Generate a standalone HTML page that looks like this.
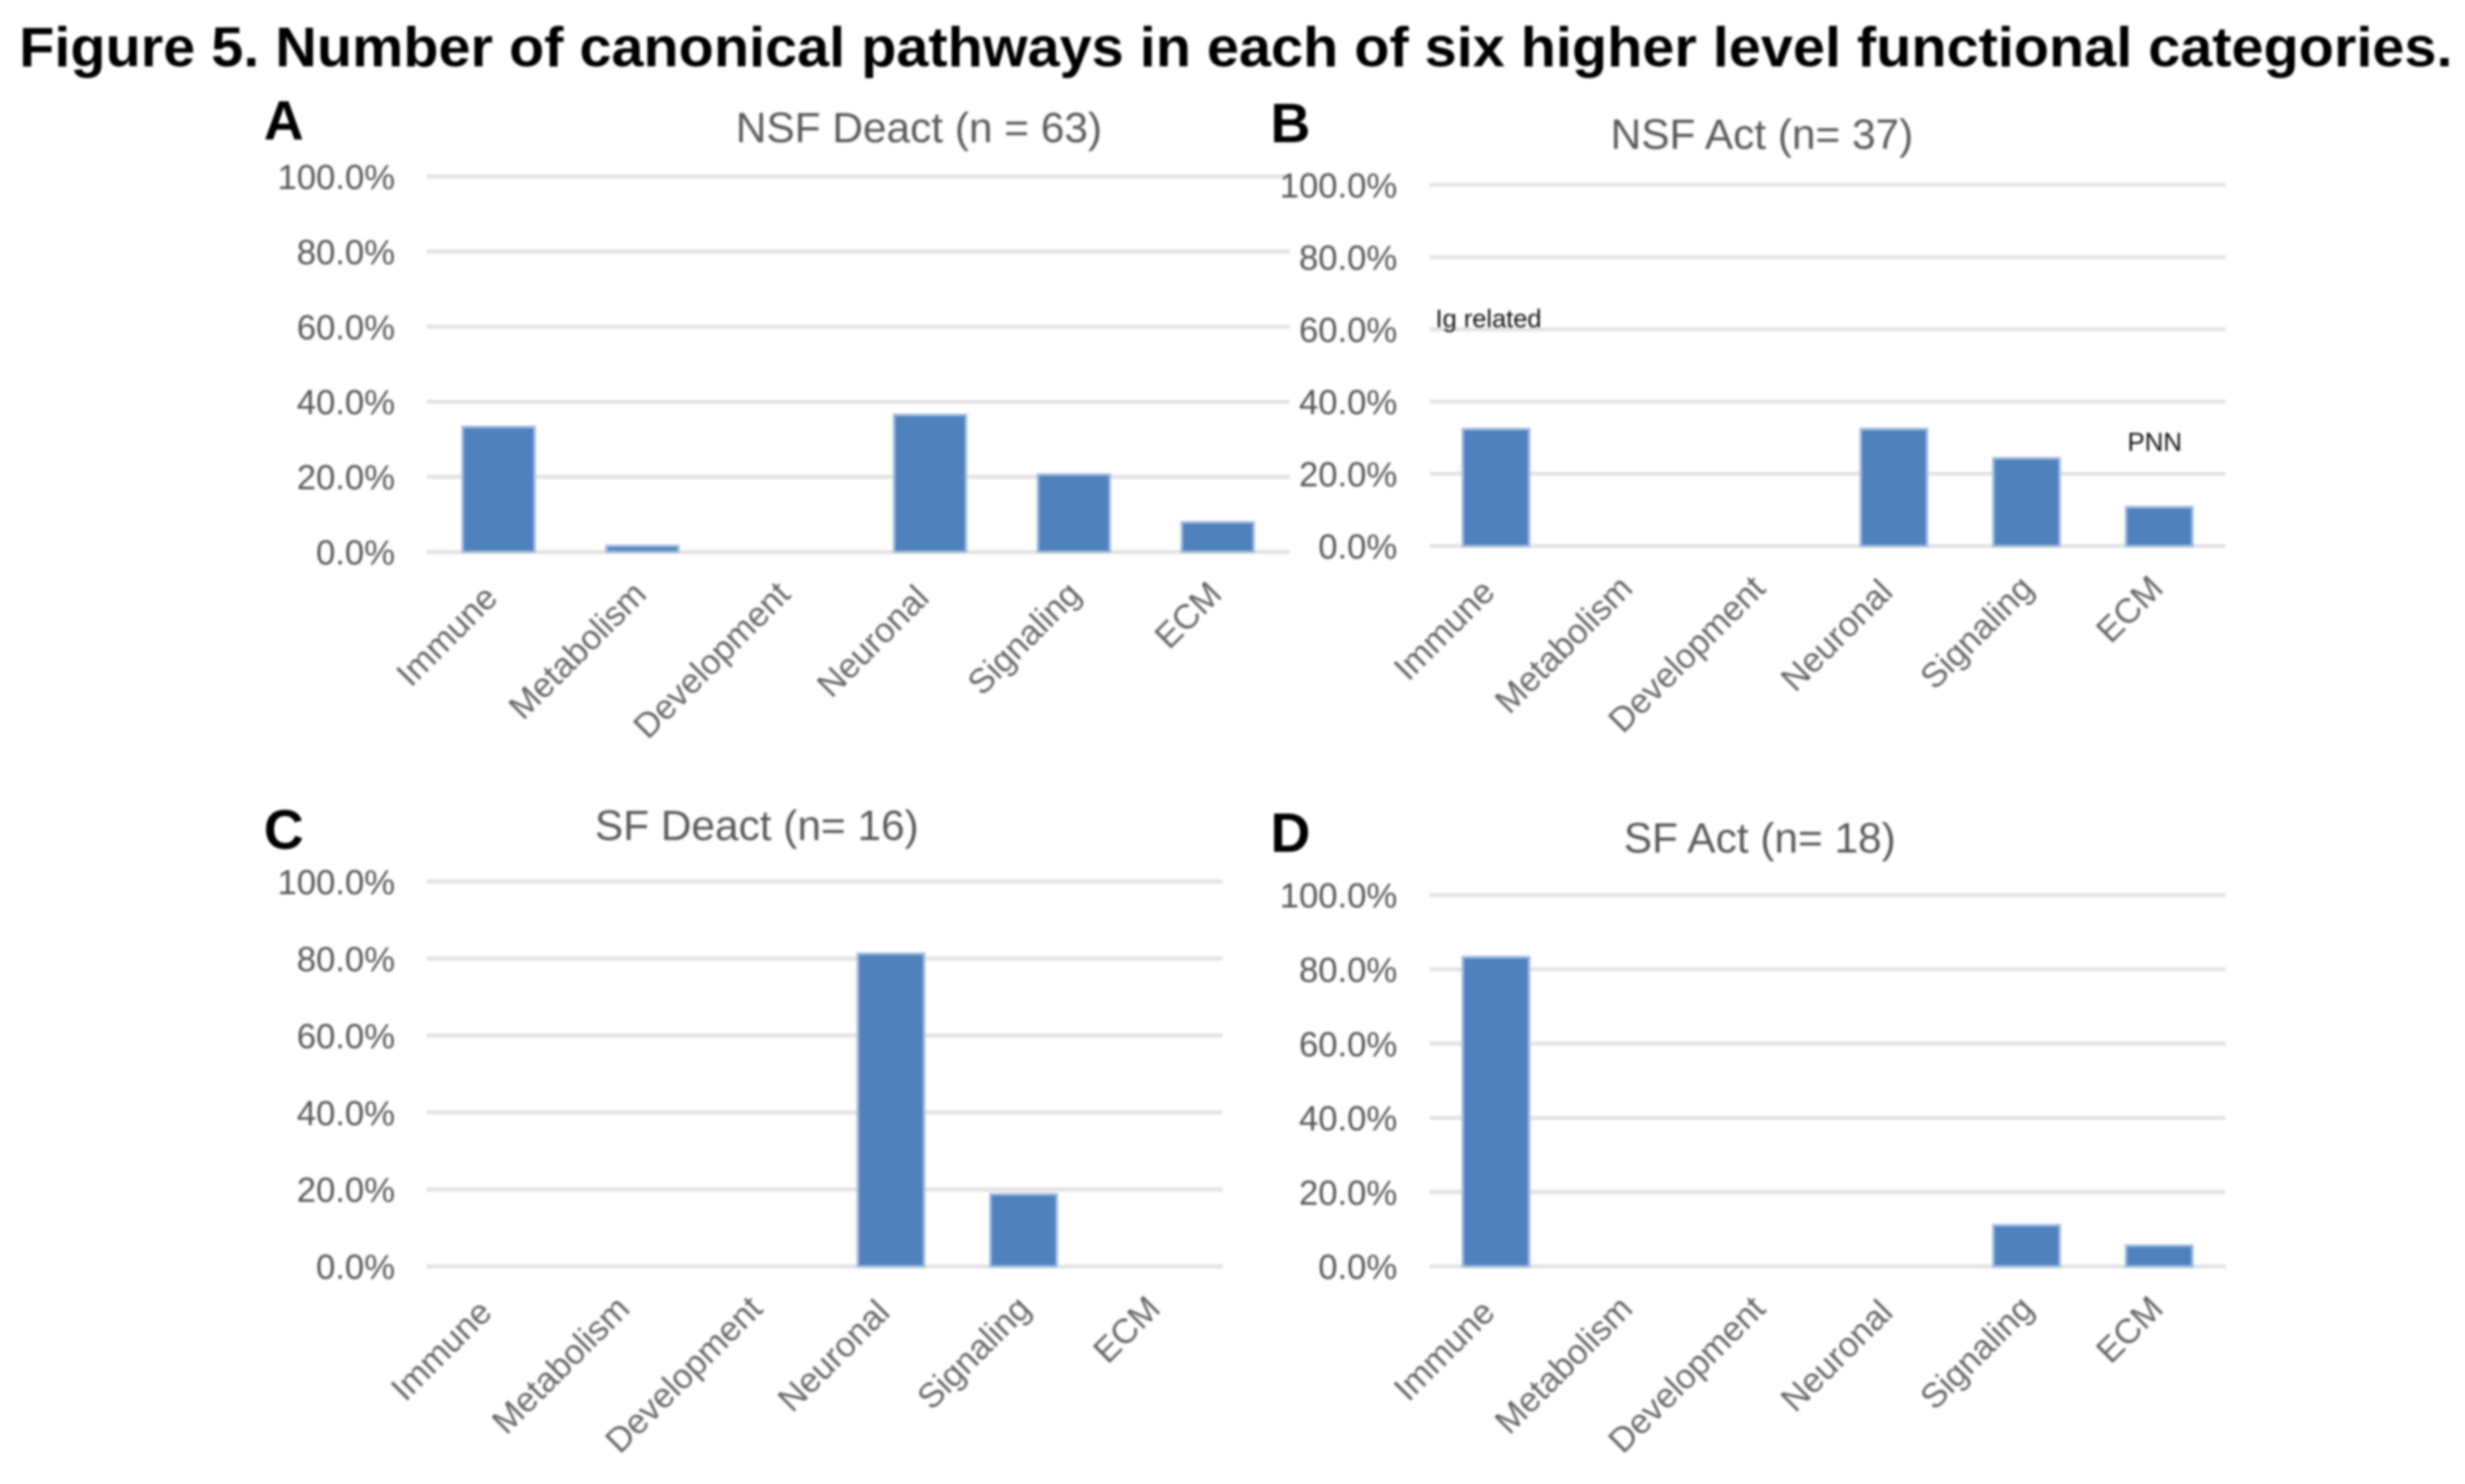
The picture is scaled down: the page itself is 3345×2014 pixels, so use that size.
<!DOCTYPE html>
<html lang="en">
<head>
<meta charset="utf-8">
<title>Figure 5. Number of canonical pathways</title>
<style>
  html, body { margin: 0; padding: 0; background: #fff; }
  body { width: 3345px; height: 2014px; overflow: hidden; }
  svg { display: block; filter: blur(1.5px); font-family: "Liberation Sans", Arial, sans-serif; }
</style>
</head>
<body>
<svg id="figure" xmlns="http://www.w3.org/2000/svg" width="3345" height="2014" viewBox="0 0 3345 2014">
  <rect width="3345" height="2014" fill="#ffffff"/>
  <text x="26" y="90" font-size="76" font-weight="700" fill="#000" textLength="3302" lengthAdjust="spacingAndGlyphs">Figure 5. Number of canonical pathways in each of six higher level functional categories.</text>

  <text x="358" y="189" font-size="75" font-weight="700" fill="#000">A</text>
  <text x="1724" y="193" font-size="75" font-weight="700" fill="#000">B</text>
  <text x="358" y="1152" font-size="75" font-weight="700" fill="#000">C</text>
  <text x="1724" y="1156" font-size="75" font-weight="700" fill="#000">D</text>

  <text x="1247" y="193" font-size="57.5" text-anchor="middle" fill="#595959">NSF Deact (n = 63)</text>
  <text x="2391" y="202" font-size="57.5" text-anchor="middle" fill="#595959">NSF Act (n= 37)</text>
  <text x="1027" y="1140" font-size="57.5" text-anchor="middle" fill="#595959">SF Deact (n= 16)</text>
  <text x="2388" y="1157" font-size="57.5" text-anchor="middle" fill="#595959">SF Act (n= 18)</text>

  <g id="charts"></g>

  <text x="1948" y="444" font-size="34.5" fill="#111111">Ig related</text>
  <text x="2887" y="612" font-size="35" fill="#111111">PNN</text>
</svg>
<script>
const categories = ['Immune', 'Metabolism', 'Development', 'Neuronal', 'Signaling', 'ECM'];
const tickValues = [0, 20, 40, 60, 80, 100];
const tickLabels = ['0.0%', '20.0%', '40.0%', '60.0%', '80.0%', '100.0%'];
const valuesA = [33.3, 1.6, 0, 36.5, 20.6, 7.9];
const valuesB = [32.4, 0, 0, 32.4, 24.3, 10.8];
const valuesC = [0, 0, 0, 81.25, 18.75, 0];
const valuesD = [83.3, 0, 0, 0, 11.1, 5.6];

const NS = 'http://www.w3.org/2000/svg';
const root = document.getElementById('charts');

function make(parent, tag, attrs, text) {
  const el = document.createElementNS(NS, tag);
  for (const k in attrs) el.setAttribute(k, attrs[k]);
  if (text !== undefined) el.textContent = text;
  parent.appendChild(el);
  return el;
}

function drawChart(id, values, left, right, yZero, yFull, labelEnd) {
  const g = make(root, 'g', {});
  
  

  const band = (right - left) / categories.length;
  const xCenter = function (i) { return left + band * (i + 0.5); };
  const yScale = function (v) { return yZero + (yFull - yZero) * v / 100; };

  tickValues.forEach(function (t, i) {
    const y = yScale(t);
    const line = make(g, 'line', { x1: left, x2: right, y1: y, y2: y, stroke: '#e3e3e3', 'stroke-width': 5.5 });
    
    
    const label = make(g, 'text', { x: labelEnd, y: y + 17, 'font-size': 47, 'text-anchor': 'end', fill: '#555555' }, tickLabels[i]);
    
    
  });

  values.forEach(function (v, i) {
    const top = yScale(v);
    const bar = make(g, 'rect', {
      x: xCenter(i) - band / 4,
      y: top,
      width: band / 2,
      height: Math.max(0, yZero - top),
      fill: '#4f81bd',
      stroke: v > 0 ? '#a3bcdf' : 'none',
      'stroke-width': 3.5
    });
    
    
  });

  categories.forEach(function (c, i) {
    const nudged = c === 'Immune' || c === 'Neuronal';
    const x = xCenter(i) + (nudged ? 1 : (c === 'Signaling' ? 12 : 8));
    const y = yZero + (nudged ? 65 : 60);
    const label = make(g, 'text', {
      x: x, y: y, 'font-size': 47, 'text-anchor': 'end', fill: '#666666',
      transform: 'rotate(-45 ' + x + ' ' + y + ')'
    }, c);
    
    
  });
}

drawChart('a', valuesA, 579, 1750, 749, 239.5, 536);
drawChart('b', valuesB, 1940, 3020, 741, 251, 1896);
drawChart('c', valuesC, 579, 1659, 1718.7, 1196.4, 536);
drawChart('d', valuesD, 1940, 3020, 1718.7, 1214.7, 1896);
</script>
</body>
</html>
